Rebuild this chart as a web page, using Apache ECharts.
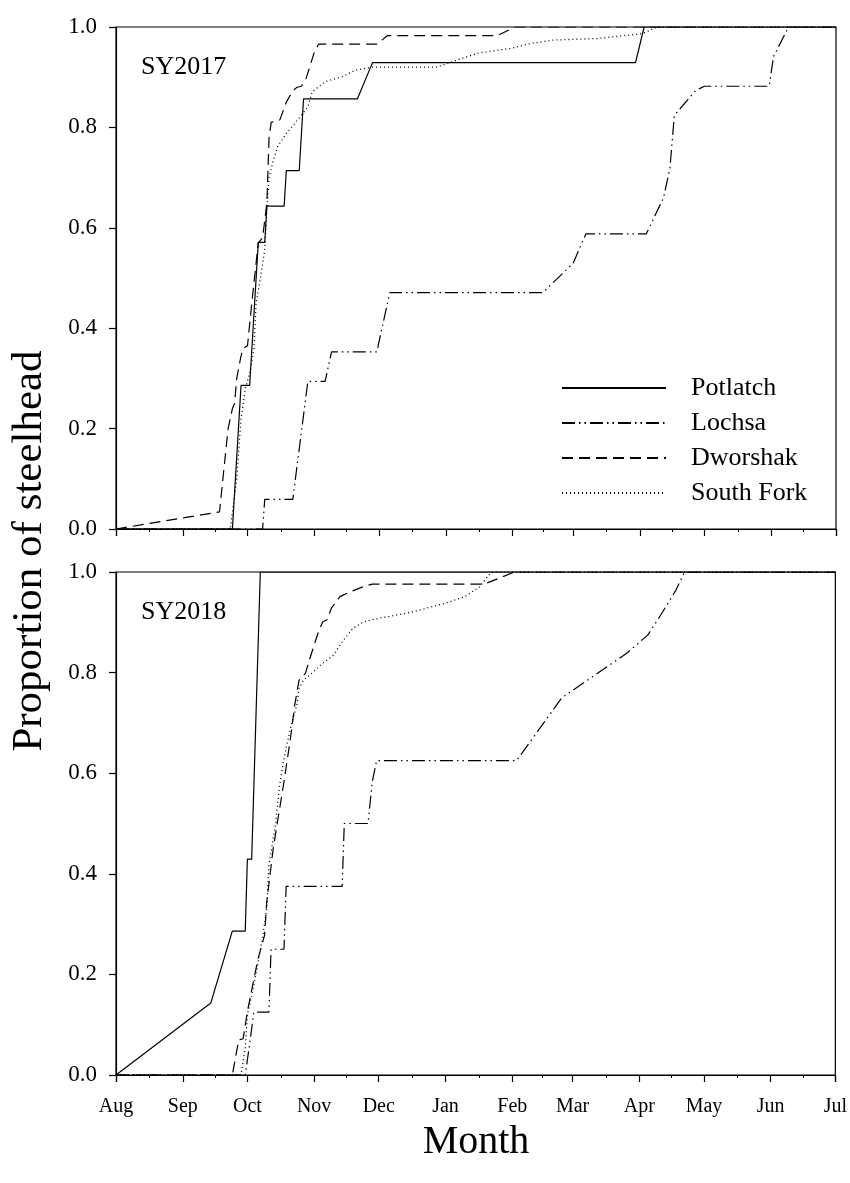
<!DOCTYPE html>
<html>
<head>
<meta charset="utf-8">
<script src="https://cdn.jsdelivr.net/npm/echarts@6/dist/echarts.min.js"></script>
<style>
  html, body { margin: 0; padding: 0; background: #fff; }
  #chart { width: 850px; height: 1183px; }
</style>
</head>
<body>
<div id="chart"></div>
<script>
// Cumulative proportion of steelhead by date, two spawn years.
// Each point: [month-day, cumulative proportion]; Aug–Dec belong to the first calendar year.
const months = ['Jan','Feb','Mar','Apr','May','Jun','Jul','Aug','Sep','Oct','Nov','Dec'];
const seriesNames = ['Potlatch', 'Lochsa', 'Dworshak', 'South Fork'];
const panelLabels = ['SY2017', 'SY2018'];
const seasonStartYears = [2016, 2017];

const potlatch2017 = [
  ['08-01',0],['09-24',0],['09-28',0.286],['10-02',0.286],['10-06',0.571],['10-09',0.571],
  ['10-10',0.643],['10-18',0.643],['10-19',0.714],['10-25',0.714],['10-27',0.857],['11-21',0.857],
  ['11-28',0.929],['03-30',0.929],['04-03',1],['07-01',1]
];
const lochsa2017 = [
  ['08-01',0],['10-08',0],['10-09',0.059],['10-22',0.059],['10-29',0.294],['11-06',0.294],
  ['11-09',0.353],['11-30',0.353],['12-06',0.471],['02-15',0.471],['03-01',0.529],['03-07',0.588],
  ['04-04',0.588],['04-12',0.66],['04-15',0.72],['04-17',0.824],['04-27',0.874],['05-01',0.882],
  ['05-31',0.882],['06-02',0.941],['06-09',1],['07-01',1]
];
const dworshak2017 = [
  ['08-01',0],['09-18',0.034],['09-22',0.2],['09-24',0.24],['09-25',0.25],['09-26',0.3],
  ['09-28',0.345],['09-29',0.36],['10-01',0.365],['10-03',0.45],['10-06',0.57],['10-08',0.58],
  ['10-10',0.65],['10-11',0.78],['10-12',0.81],['10-16',0.815],['10-19',0.85],['10-22',0.873],
  ['10-24',0.88],['10-26',0.882],['10-28',0.895],['11-01',0.95],['11-03',0.966],['11-30',0.966],
  ['12-05',0.983],['01-25',0.983],['02-02',1],['07-01',1]
];
const southFork2017 = [
  ['08-01',0],['09-23',0],['09-26',0.10],['09-28',0.22],['09-30',0.28],['10-02',0.31],
  ['10-04',0.36],['10-05',0.45],['10-07',0.50],['10-09',0.556],['10-10',0.642],['10-11',0.70],
  ['10-13',0.735],['10-15',0.762],['10-19',0.788],['10-23',0.808],['10-29',0.841],['10-31',0.871],
  ['11-06',0.891],['11-14',0.901],['11-20',0.914],['11-28',0.92],['12-28',0.92],['01-04',0.931],
  ['01-16',0.948],['02-01',0.958],['02-09',0.967],['02-20',0.974],['03-12',0.977],['04-01',0.986],
  ['04-04',0.99],['04-09',1],['07-01',1]
];

const potlatch2018 = [
  ['08-01',0],['09-14',0.143],['09-24',0.286],['09-30',0.286],['10-01',0.429],['10-03',0.429],
  ['10-07',1],['07-01',1]
];
const lochsa2018 = [
  ['08-01',0],['09-30',0],['10-02',0.06],['10-04',0.125],['10-11',0.125],['10-12',0.25],
  ['10-18',0.25],['10-19',0.375],['11-14',0.375],['11-15',0.5],['11-26',0.5],['11-28',0.583],
  ['11-30',0.625],['02-03',0.625],['02-24',0.75],['03-26',0.838],['04-05',0.875],['04-10',0.908],
  ['04-18',0.964],['04-22',1],['07-01',1]
];
const dworshak2018 = [
  ['08-01',0],['09-24',0],['09-27',0.07],['09-29',0.072],['10-01',0.126],['10-04',0.19],
  ['10-06',0.232],['10-09',0.278],['10-10',0.345],['10-13',0.45],['10-15',0.504],['10-18',0.583],
  ['10-21',0.669],['10-23',0.736],['10-25',0.785],['10-28',0.799],['10-30',0.828],['11-03',0.881],
  ['11-05',0.901],['11-07',0.905],['11-09',0.928],['11-13',0.951],['11-14',0.953],['11-18',0.961],
  ['11-24',0.971],['11-28',0.976],['01-19',0.976],['02-02',1],['07-01',1]
];
const southFork2018 = [
  ['08-01',0],['09-28',0],['09-30',0.053],['10-01',0.119],['10-04',0.179],['10-06',0.225],
  ['10-08',0.272],['10-10',0.331],['10-11',0.417],['10-14',0.497],['10-16',0.577],['10-18',0.63],
  ['10-21',0.689],['10-24',0.736],['10-25',0.769],['10-27',0.785],['10-30',0.795],['11-04',0.815],
  ['11-10',0.835],['11-14',0.861],['11-19',0.888],['11-24',0.901],['12-01',0.908],['12-10',0.915],
  ['12-17',0.921],['01-01',0.938],['01-10',0.951],['01-17',0.971],['01-21',0.994],['01-23',1],
  ['07-01',1]
];

const panels = [
  [potlatch2017, lochsa2017, dworshak2017, southFork2017],
  [potlatch2018, lochsa2018, dworshak2018, southFork2018]
];

// Line dash patterns per site
const dashes = {
  'Potlatch': 'solid',
  'Lochsa': [13, 4, 1.5, 4, 1.5, 4],
  'Dworshak': [11, 6],
  'South Fork': [1, 3]
};

const SERIF = '"Liberation Serif", "DejaVu Serif", serif';

function withYear(points, startYear) {
  return points.map(([md, v]) => {
    const m = +md.slice(0, 2);
    return [(m >= 8 ? startYear : startYear + 1) + '-' + md, v];
  });
}

const grids = [
  { left: 116, top: 27, width: 720, height: 502 },
  { left: 116, top: 572, width: 720, height: 503 }
];

const xAxes = grids.map((g, i) => ({
  type: 'time',
  gridIndex: i,
  min: seasonStartYears[i] + '-08-01',
  max: (seasonStartYears[i] + 1) + '-07-01',
  splitNumber: 12,
  axisLine: { lineStyle: { color: '#000', width: 1.2 } },
  axisTick: { show: true, length: 7, lineStyle: { color: '#000', width: 1.2 } },
  minorTick: { show: true, splitNumber: 2, length: 3, lineStyle: { color: '#000' } },
  splitLine: { show: false },
  axisLabel: {
    show: i === 1,
    margin: 22,
    color: '#000',
    fontFamily: SERIF,
    fontSize: 20,
    hideOverlap: false,
    showMinLabel: true,
    showMaxLabel: true,
    formatter: (val) => months[new Date(val).getMonth()]
  }
}));

const yAxes = grids.map((g, i) => ({
  type: 'value',
  gridIndex: i,
  min: 0,
  max: 1,
  interval: 0.2,
  axisLine: { show: true, lineStyle: { color: '#000', width: 1.2 } },
  axisTick: { show: true, length: 7, lineStyle: { color: '#000', width: 1.2 } },
  splitLine: { show: false },
  axisLabel: {
    margin: 19,
    color: '#000',
    fontFamily: SERIF,
    fontSize: 23,
    formatter: (v) => v.toFixed(1)
  }
}));

const series = [];
panels.forEach((lines, p) => {
  lines.forEach((pts, k) => {
    const name = seriesNames[k];
    series.push({
      name,
      type: 'line',
      xAxisIndex: p,
      yAxisIndex: p,
      symbol: 'none',
      animation: false,
      itemStyle: { color: '#000' },
      lineStyle: { color: '#000', width: name === 'South Fork' ? 1.3 : 1.2, type: dashes[name] },
      data: withYear(pts, seasonStartYears[p])
    });
  });
});

const option = {
  backgroundColor: '#fff',
  animation: false,
  grid: grids.map(g => Object.assign({ show: true, borderColor: '#000', borderWidth: 1.2, backgroundColor: 'transparent' }, g)),
  xAxis: xAxes,
  yAxis: yAxes,
  legend: {
    data: seriesNames,
    orient: 'vertical',
    left: 561,
    top: 375,
    padding: 0,
    itemWidth: 104,
    itemHeight: 14,
    itemGap: 9,
    itemStyle: { color: 'rgba(0,0,0,0)', borderColor: 'rgba(0,0,0,0)', borderWidth: 0, opacity: 0 },
    textStyle: { color: '#000', fontFamily: SERIF, fontSize: 26, padding: [0, 0, 0, 20] }
  },
  graphic: [
    { type: 'text', x: 141, y: 67, style: { text: panelLabels[0], font: '26px ' + SERIF, fill: '#000', verticalAlign: 'middle' } },
    { type: 'text', x: 141, y: 612, style: { text: panelLabels[1], font: '26px ' + SERIF, fill: '#000', verticalAlign: 'middle' } },
    { type: 'text', x: 30, y: 551, rotation: Math.PI / 2, style: { text: 'Proportion of steelhead', font: '43px ' + SERIF, fill: '#000', align: 'center', verticalAlign: 'middle' } },
    { type: 'text', x: 476, y: 1142, style: { text: 'Month', font: '40px ' + SERIF, fill: '#000', align: 'center', verticalAlign: 'middle' } }
  ],
  series
};

const chart = echarts.init(document.getElementById('chart'), null, { renderer: 'canvas' });
chart.setOption(option);
</script>
</body>
</html>
